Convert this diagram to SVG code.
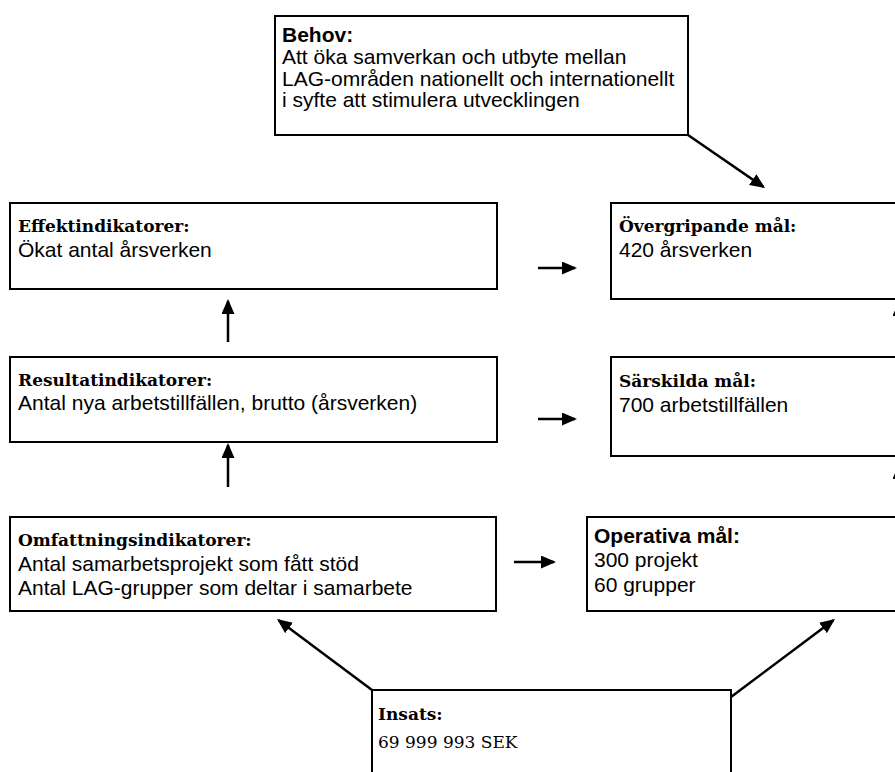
<svg xmlns="http://www.w3.org/2000/svg" width="895" height="772" viewBox="0 0 895 772">
<style>
.box{fill:#fff;stroke:#000;stroke-width:2}
.sans{font-family:"Liberation Sans",Arial,sans-serif;font-size:21px;fill:#000}
.sansb{font-family:"Liberation Sans",Arial,sans-serif;font-size:21px;font-weight:bold;fill:#000}
.serifb{font-family:"DejaVu Serif","Liberation Serif",serif;font-size:17px;font-weight:bold;fill:#000}
.serif{font-family:"DejaVu Serif","Liberation Serif",serif;font-size:17px;fill:#000}
.conn{stroke:#000;stroke-width:2.5;fill:none;marker-end:url(#ah)}
</style>
<defs>
<marker id="ah" viewBox="0 0 15 13" refX="13" refY="6.5" markerWidth="15" markerHeight="13" markerUnits="userSpaceOnUse" orient="auto">
<path d="M0,0 L15,6.5 L0,13 z" fill="#000"/>
</marker>
</defs>
<rect width="895" height="772" fill="#fff"/>
<g id="behov">
<rect class="box" x="275" y="16" width="413" height="119"/>
<text class="sansb" x="282" y="42">Behov:</text>
<text class="sans" x="282" y="64">Att öka samverkan och utbyte mellan</text>
<text class="sans" x="282" y="85.5">LAG-områden nationellt och internationellt</text>
<text class="sans" x="282" y="107">i syfte att stimulera utvecklingen</text>
</g>
<g id="effekt">
<rect class="box" x="10" y="203" width="487" height="86"/>
<text class="serifb" x="18" y="232">Effektindikatorer:</text>
<text class="sans" x="18" y="257">Ökat antal årsverken</text>
</g>
<g id="overgripande">
<rect class="box" x="611" y="203" width="350" height="96"/>
<text class="serifb" x="619" y="232">Övergripande mål:</text>
<text class="sans" x="619" y="257">420 årsverken</text>
</g>
<g id="resultat">
<rect class="box" x="10" y="357" width="487" height="85"/>
<text class="serifb" x="18" y="386">Resultatindikatorer:</text>
<text class="sans" x="18" y="410">Antal nya arbetstillfällen, brutto (årsverken)</text>
</g>
<g id="sarskilda">
<rect class="box" x="611" y="357" width="350" height="99"/>
<text class="serifb" x="619" y="387">Särskilda mål:</text>
<text class="sans" x="619" y="412">700 arbetstillfällen</text>
</g>
<g id="omfattning">
<rect class="box" x="10" y="517" width="486" height="94"/>
<text class="serifb" x="18" y="546">Omfattningsindikatorer:</text>
<text class="sans" x="18" y="571">Antal samarbetsprojekt som fått stöd</text>
<text class="sans" x="18" y="595">Antal LAG-grupper som deltar i samarbete</text>
</g>
<g id="operativa">
<rect class="box" x="587" y="517" width="374" height="94"/>
<text class="sansb" x="594" y="543">Operativa mål:</text>
<text class="sans" x="594" y="567">300 projekt</text>
<text class="sans" x="594" y="592">60 grupper</text>
</g>
<g id="insats">
<rect class="box" x="372" y="690" width="359" height="110"/>
<text class="serifb" x="378" y="720">Insats:</text>
<text class="serif" x="378" y="748">69 999 993 SEK</text>
</g>
<g id="connectors">
<line class="conn" x1="688" y1="135" x2="763.4" y2="186.9"/>
<line class="conn" x1="538" y1="268" x2="575" y2="268"/>
<line class="conn" x1="538" y1="419" x2="575" y2="419"/>
<line class="conn" x1="514" y1="562" x2="554" y2="562"/>
<line class="conn" x1="228" y1="342" x2="228" y2="301"/>
<line class="conn" x1="228" y1="487" x2="228" y2="445"/>
<line class="conn" x1="372" y1="690" x2="278.6" y2="620.2"/>
<line class="conn" x1="731" y1="697" x2="833.4" y2="620.2"/>
<line class="conn" x1="899" y1="357" x2="899" y2="303"/>
<line class="conn" x1="899" y1="517" x2="899" y2="466"/>
</g>
</svg>
